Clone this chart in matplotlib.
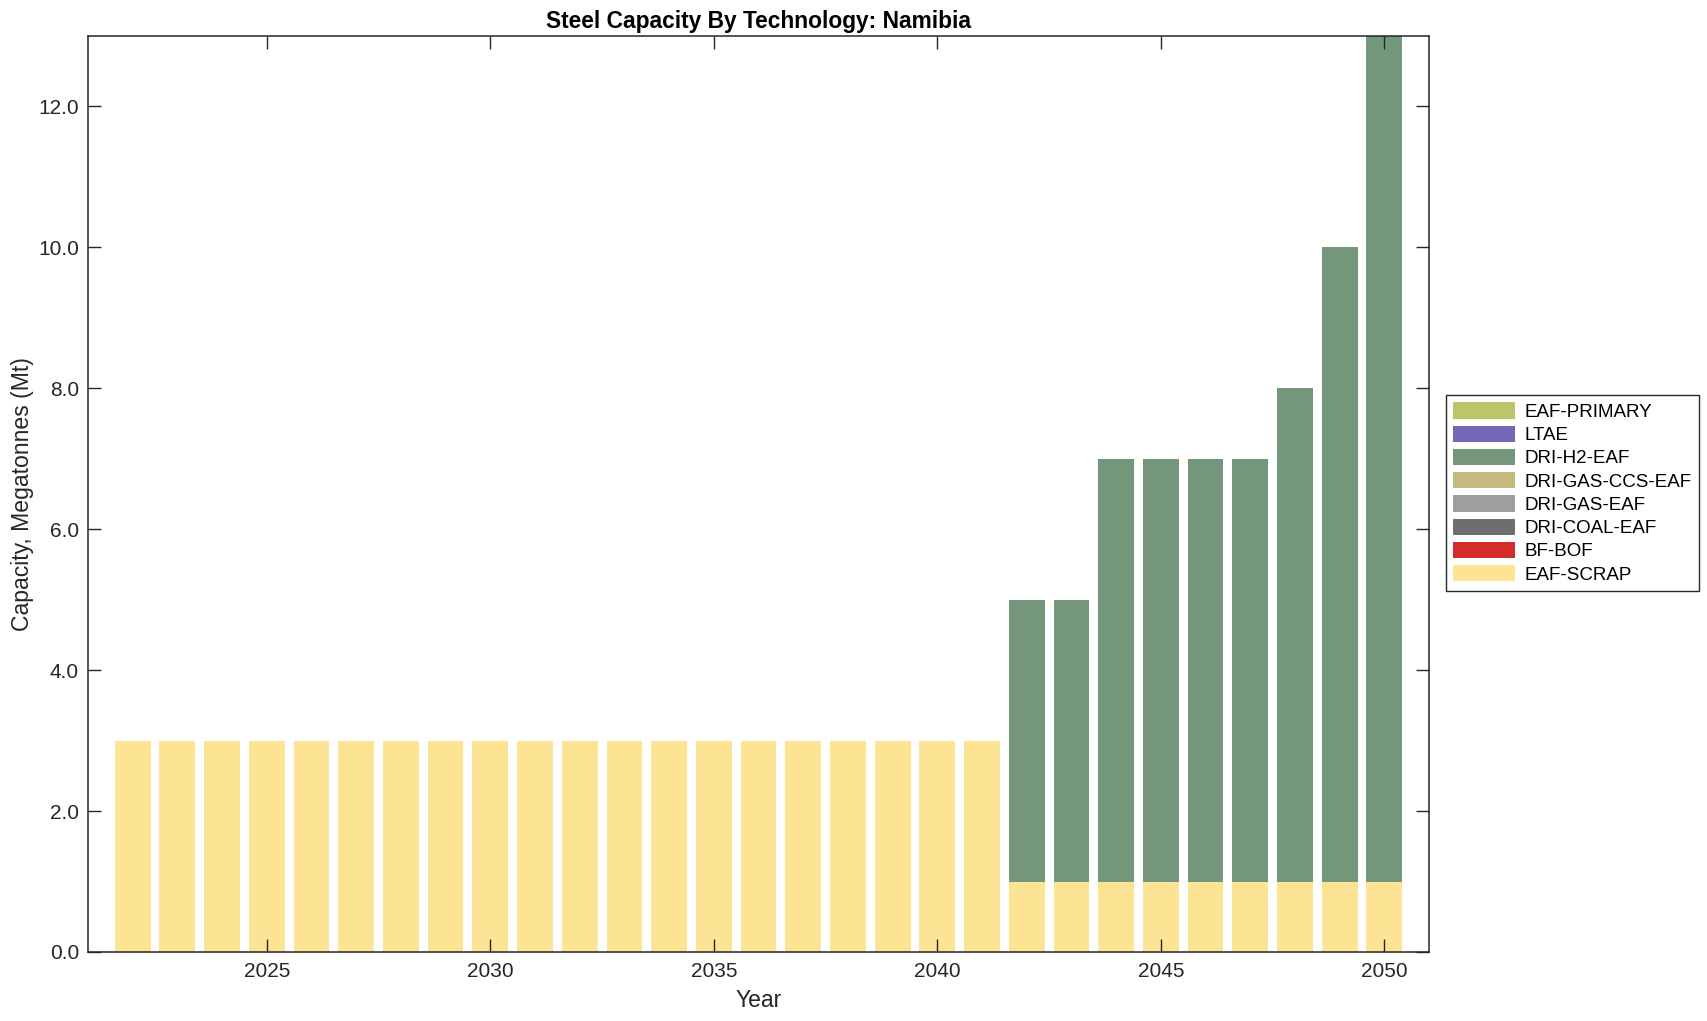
import numpy as np
import matplotlib
matplotlib.use('Agg')
import matplotlib.pyplot as plt
from matplotlib.ticker import FormatStrFormatter

plt.rcParams['font.family'] = ['Liberation Sans', 'DejaVu Sans']

# data (Mt)
years = list(range(2022, 2051))
eaf_scrap = [3] * 20 + [1] * 9
bf_bof = [0] * 29
dri_coal_eaf = [0] * 29
dri_gas_eaf = [0] * 29
dri_gas_ccs_eaf = [0] * 29
dri_h2_eaf = [0] * 20 + [4, 4, 6, 6, 6, 6, 7, 9, 12]
ltae = [0] * 29
eaf_primary = [0] * 29

techs = ['EAF-SCRAP', 'BF-BOF', 'DRI-COAL-EAF', 'DRI-GAS-EAF',
         'DRI-GAS-CCS-EAF', 'DRI-H2-EAF', 'LTAE', 'EAF-PRIMARY']
series = [eaf_scrap, bf_bof, dri_coal_eaf, dri_gas_eaf,
          dri_gas_ccs_eaf, dri_h2_eaf, ltae, eaf_primary]
colors = ['#fde394', '#d42c27', '#6e6e6e', '#9e9e9e',
          '#c5bb7c', '#74977c', '#7268b5', '#bdc56b']

fig = plt.figure(figsize=(17.08, 10.21), dpi=100)
ax = fig.add_axes([0.0515, 0.0676, 0.7852, 0.8971])

bottom = np.zeros(len(years))
for name, vals, c in zip(techs, series, colors):
    ax.bar(years, vals, width=0.8, bottom=bottom, color=c, label=name, linewidth=0)
    bottom += np.array(vals)

ax.set_xlim(2021, 2051)
ax.set_ylim(0, 13)
ax.set_xticks(range(2025, 2051, 5))
ax.set_yticks(range(0, 13, 2))
ax.yaxis.set_major_formatter(FormatStrFormatter('%.1f'))
ax.tick_params(direction='in', length=9.5, width=1, top=True, right=True,
               labelsize=15, colors='#262626')
ax.tick_params(axis='x', pad=7)
ax.tick_params(axis='y', pad=6.5)
for s in ax.spines.values():
    s.set_linewidth(1.1)
    s.set_color('#262626')

ax.set_title('Steel Capacity By Technology: Namibia', fontsize=16.4,
             fontweight='bold', pad=6)
ax.set_xlabel('Year', fontsize=16.5, labelpad=6, color='#262626')
ax.set_ylabel('Capacity, Megatonnes (Mt)', fontsize=16.6, labelpad=3, color='#262626')

h, l = ax.get_legend_handles_labels()
leg = fig.legend(h[::-1], l[::-1], loc='upper left',
                 bbox_to_anchor=(0.8466, 1 - 395 / 1021), borderaxespad=0,
                 fontsize=13.5, fancybox=False, edgecolor='#262626',
                 handlelength=3.3, handleheight=0.95, labelspacing=0.25,
                 handletextpad=0.5, borderpad=0.4, framealpha=1)
leg.get_frame().set_linewidth(1.0)

fig.savefig('out.png', dpi=100)
